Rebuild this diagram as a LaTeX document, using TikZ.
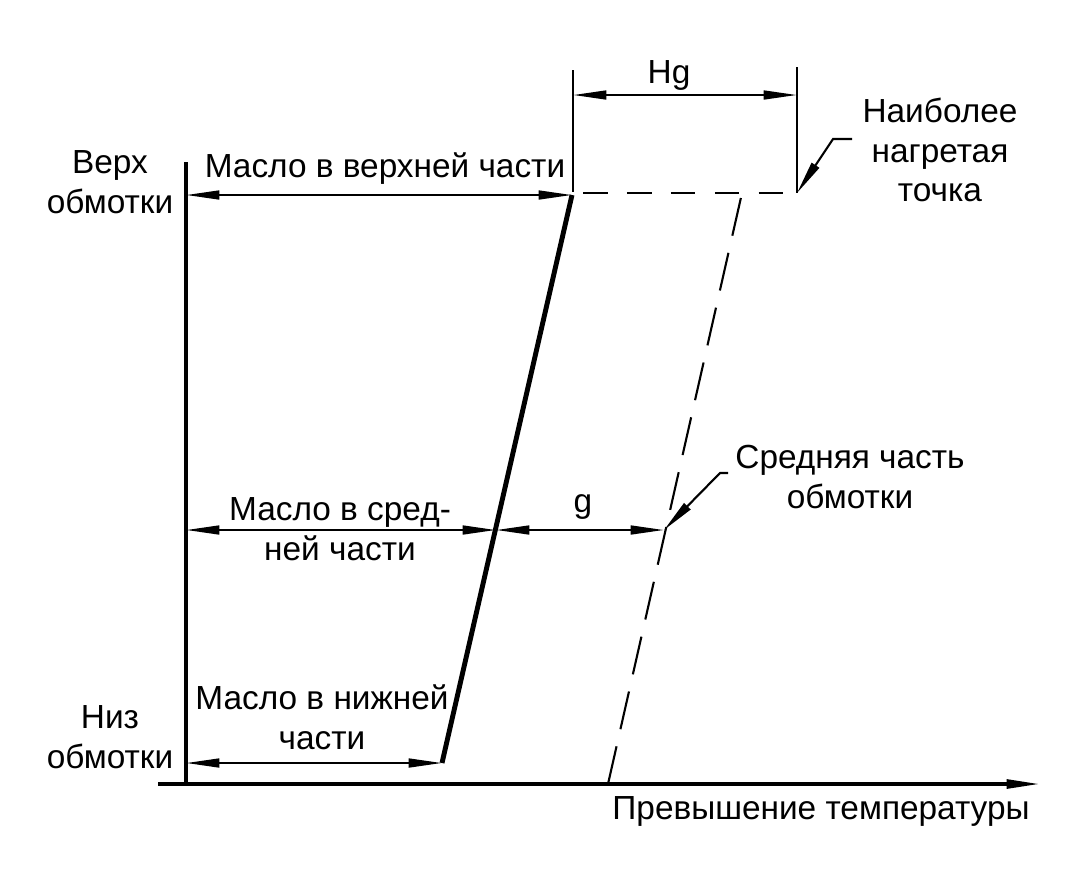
\documentclass[tikz,border=0pt]{standalone}
\usepackage{fontspec}
\setmainfont{Liberation Sans}
\usetikzlibrary{arrows.meta}
\tikzset{>={Triangle[length=19pt,width=5pt]}}
\tikzstyle{axis}=[line width=1.9pt]
\tikzstyle{dim}=[<->,line width=1.3pt]
\tikzstyle{oil}=[line width=2.8pt]
\tikzstyle{wind}=[line width=1.2pt,dash pattern=on 22pt off 10pt]
\tikzstyle{hot}=[line width=1.3pt,dash pattern=on 14pt off 11pt]
\tikzstyle{pointer}=[<-,line width=1.2pt]
\tikzstyle{lbl}=[font=\fontsize{19}{22.5}\selectfont,align=center,inner sep=0pt]

\begin{document}
\begin{tikzpicture}[x=0.02cm,y=-0.02cm]
  \useasboundingbox (0,0) rectangle (1081,880);

  % AXES
  \coordinate (O)   at (186,784);
  \coordinate (Top) at (186,162);
  \coordinate (X0)  at (158,784);
  \coordinate (X1)  at (1040,784);
  \draw[axis] (Top) -- (O);
  \draw[axis,->] (X0) -- (X1);

  % OIL
  \coordinate (OilT) at (572,195);
  \coordinate (OilM) at (496,530);
  \coordinate (OilB) at (442,763);
  \draw[oil] (OilT) -- (OilB);

  % WINDING
  \coordinate (WdgT) at (742,193);
  \coordinate (WdgM) at (664,530);
  \coordinate (WdgB) at (608,784);
  \coordinate (Hot)  at (797,193);
  \draw[wind] (WdgB) -- (WdgT);
  \draw[hot] (583,193) -- (Hot);

  % DIMENSIONS
  \coordinate (LT) at (186,195);
  \coordinate (LM) at (186,530);
  \coordinate (LB) at (186,763);
  \draw[dim] (LT) -- (OilT);
  \draw[dim] (LM) -- (OilM);
  \draw[dim] (OilM) -- (WdgM);
  \draw[dim] (LB) -- (OilB);

  \coordinate (HgL) at (573,95);
  \coordinate (HgR) at (797,95);
  \draw[line width=1.2pt] (573,70) -- (573,192);
  \draw[line width=1.2pt] (797,67) -- (Hot);
  \draw[dim] (HgL) -- (HgR);

  % POINTERS
  \draw[pointer] (Hot) -- (833,139) -- (852,139);
  \draw[pointer] (WdgM) -- (720,473) -- (728,473);

  % LABELS
  \node[lbl] (top)  at (110,182) {Верх\\обмотки};
  \node[lbl] (bot)  at (110,737) {Низ\\обмотки};
  \node[lbl] (oilt) at (385,169) {Масло в верхней части};
  \node[lbl] (oilm) at (340,529) {Масло в сред-\\ней части};
  \node[lbl] (oilb) at (322,717) {Масло в нижней\\части};
  \node[lbl] (g)    at (583,507) {g};
  \node[lbl] (hg)   at (669,75)  {Hg};
  \node[lbl] (hot)  at (940,150) {Наиболее\\нагретая\\точка};
  \node[lbl] (mid)  at (850,477) {Средняя часть\\обмотки};
  \node[lbl] (xlab) at (821,811) {Превышение температуры};
\end{tikzpicture}
\end{document}
